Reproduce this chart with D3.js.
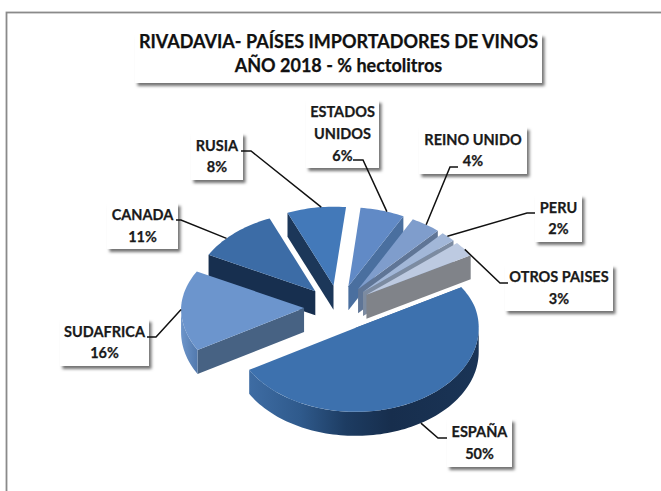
<!DOCTYPE html>
<html><head><meta charset="utf-8">
<script src="https://cdn.jsdelivr.net/npm/d3@7/dist/d3.min.js"></script>
<style>html,body{margin:0;padding:0;background:#fff}svg{display:block}</style>
</head><body><div id="c"></div>
<script>
const titleLines = ["RIVADAVIA- PAÍSES IMPORTADORES DE VINOS", "AÑO 2018 - % hectolitros"];
const categories = ["ESPAÑA","SUDAFRICA","CANADA","RUSIA","ESTADOS UNIDOS","REINO UNIDO","PERU","OTROS PAISES"];
const values = [50,16,11,8,6,4,2,3];
const topColors = ["#3d71ae","#6c95cd","#3c6ca6","#4379b9","#618ac6","#7f9dcc","#a2b7d8","#bdcae1"];
const wallColors = ["#3a659a","#476283","#172f4f","#1c3759","#4a6f9f","#5f7596","#7c8ba1","#808389"];
const labelLines = [["ESPAÑA","50%"],["SUDAFRICA","16%"],["CANADA","11%"],["RUSIA","8%"],["ESTADOS","UNIDOS","6%"],["REINO UNIDO","4%"],["PERU","2%"],["OTROS PAISES","3%"]];
// label boxes: x0,y0,x1,y1
const labelBoxes = [[447,419,512,467],[60,319,149,366],[107,203,178,249],[191,133,243,180],[306,100,379,168],[419,127,527,174],[535,195,582,242],[505,265,613,311]];
// leader: elbow start, elbow end, angle on the rim
const leaderStart = [[447,438],[147,337],[176,220],[241,151],[353,160],[458,167],[535,213],[508,283]];
const leaderElbow = [[438,438],[156,337],[181,220],[251,151],[363,160],[450,167],[527,213],[500,283]];
const leaderAngle = [148,269,312,354,19,35,45,55];

const W=661,H=491, cx=338.5, cy=307.5, rx=123, ry=84, depth=24, explode=0.28;
const x=d3.scaleLinear().domain([-1,1]).range([-rx,rx]);
// the back of the tilted pie recedes: slightly flatter and narrower above the centre
const y=d3.scaleLinear().domain([-1,0,1]).range([cy-ry*0.94,cy,cy+ry]);
const y2=d3.scaleLinear().domain([-1,0,1]).range([cy-ry*0.94+depth,cy+depth,cy+ry+depth]);
const persp=d3.scaleLinear().domain([-1.3,0,1.3]).range([0.965,1,1]);

const svg=d3.select("#c").append("svg").attr("width",W).attr("height",H);
const defs=svg.append("defs");
const sh=defs.append("filter").attr("id","sh").attr("x","-20%").attr("y","-20%").attr("width","150%").attr("height","150%");
sh.append("feDropShadow").attr("dx",2.5).attr("dy",3).attr("stdDeviation",1.6).attr("flood-color","#000").attr("flood-opacity",0.55);

const gS=defs.append("linearGradient").attr("id","rimEs").attr("gradientUnits","userSpaceOnUse")
  .attr("x1",250).attr("x2",478).attr("y1",0).attr("y2",0);
[[0,"#3e6ca3"],[0.22,"#2f5a8c"],[0.42,"#1d3c62"],[0.62,"#172e4d"],[1,"#1a3456"]].forEach(d=>gS.append("stop").attr("offset",d[0]).attr("stop-color",d[1]));
const gT=defs.append("linearGradient").attr("id","rimSu").attr("x1",0).attr("x2",1).attr("y1",0).attr("y2",0);
[[0,"#6d95ca"],[1,"#5279ad"]].forEach(d=>gT.append("stop").attr("offset",d[0]).attr("stop-color",d[1]));

svg.append("rect").attr("x",6.5).attr("y",12.5).attr("width",W+10).attr("height",H+10).attr("fill","#fff").attr("stroke","#8a8a8a").attr("stroke-width",1.8);

const pie=d3.pie().value(d=>d).sort(null).startAngle(Math.PI/3).endAngle(Math.PI/3+2*Math.PI);
const arcs=pie(values);
const line=d3.line();
const deg=a=>a*Math.PI/180;

function off(a){const m=(a.startAngle+a.endAngle)/2;return [explode*Math.sin(m),-explode*Math.cos(m)];}
function pt(u,v,ys){return [cx+x(u)*persp(v),ys(v)];}
function rim(a,t,ys){const o=off(a);return pt(o[0]+Math.sin(t),o[1]-Math.cos(t),ys);}
function apex(a,ys){const o=off(a);return pt(o[0],o[1],ys);}
function sample(a0,a1){const n=Math.max(2,Math.ceil((a1-a0)/0.03));return d3.range(n+1).map(i=>a0+(a1-a0)*i/n);}

// painter order: back slices first, front (ESPAÑA) last
const order=[3,2,4,1,5,6,7,0];
const gPie=svg.append("g");
order.forEach(i=>{
  const a=arcs[i];
  const g=gPie.append("g");
  const s=a.startAngle,e=a.endAngle;
  const wall=t=>line([apex(a,y),rim(a,t,y),rim(a,t,y2),apex(a,y2)])+"Z";
  const m=(s+e)/2;
  if(Math.sin(m)<0 || i===0) g.append("path").attr("d",wall(s)).attr("fill",wallColors[i]);
  if(Math.sin(m)>0 && i!==0) g.append("path").attr("d",wall(e)).attr("fill",wallColors[i]);
  const r0=Math.max(s,Math.PI/2), r1=Math.min(e,3*Math.PI/2);
  if(r1>r0){
    const ts=sample(r0,r1);
    const pts=ts.map(t=>rim(a,t,y)).concat(ts.slice().reverse().map(t=>rim(a,t,y2)));
    g.append("path").attr("d",line(pts)+"Z").attr("fill",i===0?"url(#rimEs)":"url(#rimSu)");
  }
  const top=[apex(a,y)].concat(sample(s,e).map(t=>rim(a,t,y)));
  g.append("path").attr("d",line(top)+"Z").attr("fill",topColors[i]);
});

const font="Lato, Carlito, sans-serif";
function box(b){svg.append("rect").attr("x",b[0]).attr("y",b[1]).attr("width",b[2]-b[0]).attr("height",b[3]-b[1]).attr("fill","#fff").attr("filter","url(#sh)");}
labelBoxes.forEach(box);
arcs.forEach((a,i)=>{
  const p=rim(a,deg(leaderAngle[i]),i===0?y2:y);
  svg.append("path").attr("d",line([leaderStart[i],leaderElbow[i],p])).attr("fill","none").attr("stroke","#111").attr("stroke-width",1.5);
});
labelBoxes.forEach((b,i)=>{
  const lh=labelLines[i].length===3?22:21.5;
  const cxx=(b[0]+b[2])/2, n=labelLines[i].length;
  labelLines[i].forEach((t,j)=>{
    svg.append("text").attr("x",cxx).attr("y",(b[1]+b[3])/2+(j-(n-1)/2)*lh+5)
      .attr("text-anchor","middle").attr("font-family",font).attr("font-weight",700).attr("font-size",14.5)
      .attr("stroke","#1a1a1a").attr("stroke-width",0.25).attr("fill","#1a1a1a").text(t);
  });
});
box([135,34,542,83]);
titleLines.forEach((t,j)=>{
  svg.append("text").attr("x",338.5).attr("y",47.5+j*24.5).attr("text-anchor","middle").attr("font-family",font).attr("font-weight",700).attr("font-size",18)
    .attr("stroke","#111").attr("stroke-width",0.25).attr("fill","#111").text(t);
});
</script></body></html>
